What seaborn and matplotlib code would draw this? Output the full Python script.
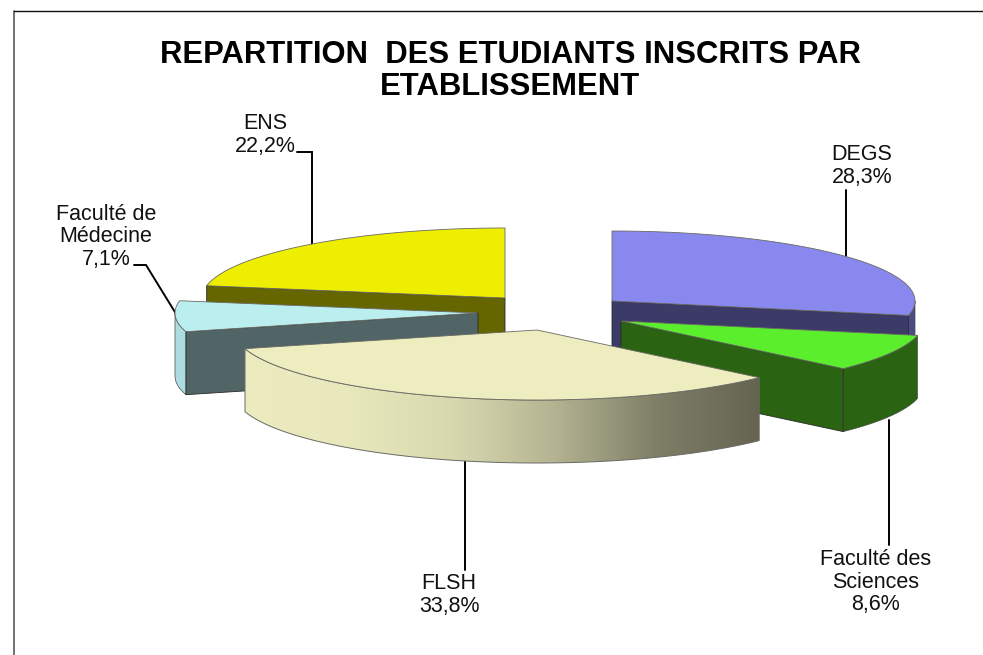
import numpy as np
import matplotlib
matplotlib.use('Agg')
import matplotlib.pyplot as plt
from matplotlib.patches import Polygon
import seaborn as sns

sns.set_style('white')
plt.rcParams['font.family'] = ['Liberation Sans', 'DejaVu Sans']

labels = ['DEGS', 'Faculté des\nSciences', 'FLSH', 'Faculté de\nMédecine', 'ENS']
shares = [28.3, 8.6, 33.8, 7.1, 22.2]

top_colors = ['#8888EE', '#5AEE2D', '#EDEDC0', '#BBEEEE', '#EEEE00']
wall_colors = ['#3C3A66', '#2A6311', '#636350', '#516567', '#666600']
rim_colors = ['#4A4A85', '#2A6311', '#636350', '#ADDDE0', '#666600']
flsh_side = ['#ECECC0', '#E8E8BC', '#D9D9B0', '#B4B492', '#7F7F68', '#646450']

# slice tips after the explode, in picture pixels
apex_x = [612, 621, 537, 478, 505]
apex_y = [301, 321, 330, 313, 298]
RX, RY, DEPTH = 303, 70, 63
EDGE = '#6a6a64'


def rim_point(i, theta):
    # theta is clockwise from the top of the pie, in degrees
    t = np.radians(theta)
    return apex_x[i] + RX * np.sin(t), apex_y[i] - RY * np.cos(t)


def draw_slice(ax, i, start, end, z):
    th = np.linspace(start, end, 200)
    x, y = rim_point(i, th)

    # outer side, only the part that faces the viewer
    lo, hi = max(start, 90), min(end, 270)
    if lo < hi:
        xs, ys = rim_point(i, np.linspace(lo, hi, 240))
        side_x = np.r_[xs, xs[::-1]]
        side_y = np.r_[ys, ys[::-1] + DEPTH]
        if i == 2:
            # the big slice has a left to right shading
            grad = np.array(sns.blend_palette(flsh_side, 256))[None, :, :]
            im = ax.imshow(grad, extent=(xs.min(), xs.max(), ys.max() + DEPTH, ys.min()),
                           aspect='auto', zorder=z, interpolation='bilinear')
            clip = Polygon(np.c_[side_x, side_y], transform=ax.transData)
            im.set_clip_path(clip)
            ax.set_xlim(0, 983)
            ax.set_ylim(655, 0)
            ax.fill(side_x, side_y, fill=False, ec=EDGE, lw=0.7, zorder=z)
        else:
            ax.fill(side_x, side_y, fc=rim_colors[i], ec='#4a4a4a', lw=0.5, zorder=z)

    # flat cut wall under the radius that points to the viewer
    if end <= 180:
        wall = end
    elif start >= 180:
        wall = start
    else:
        wall = None
    if wall is not None:
        ox, oy = rim_point(i, wall)
        ax.fill([apex_x[i], ox, ox, apex_x[i]],
                [apex_y[i], oy, oy + DEPTH, apex_y[i] + DEPTH],
                fc=wall_colors[i], ec='#2a2a2a', lw=0.6, zorder=z)

    # top face
    ax.fill(np.r_[apex_x[i], x], np.r_[apex_y[i], y],
            fc=top_colors[i], ec=EDGE, lw=0.6, zorder=z)


fig = plt.figure(figsize=(9.83, 6.55), dpi=100)
ax = fig.add_axes([0, 0, 1, 1])
ax.set_xlim(0, 983)
ax.set_ylim(655, 0)
ax.axis('off')

# frame of the chart area, only left and top are there
ax.plot([13.5, 13.5], [655, 10.5], color='#666666', lw=1.3)
ax.plot([13.5, 983], [10.5, 10.5], color='#111111', lw=1.0)

cum = np.cumsum([0] + shares) / sum(shares) * 360

# leader lines go behind the slices
leaders = [
    ([846, 846], [262, 190]),
    ([889, 889], [420, 545]),
    ([465, 465], [460, 570]),
    ([178, 146, 134], [317, 265, 265]),
    ([311.5, 311.5, 297], [250, 152, 152]),
]
for lx, ly in leaders:
    ax.plot(lx, ly, color='black', lw=1.4, solid_joinstyle='miter', zorder=3)

for z, i in enumerate([4, 0, 3, 1, 2]):
    draw_slice(ax, i, cum[i], cum[i + 1], 10 + z)

ax.text(510, 71, 'REPARTITION  DES ETUDIANTS INSCRITS PAR\nETABLISSEMENT', ha='center', va='center',
        fontsize=22.3, fontweight='bold', color='black', linespacing=1.06)

label_pos = [(862, 166), (876, 582), (449, 595), (106, 237), (265, 135)]
for (tx, ty), name, val in zip(label_pos, labels, shares):
    txt = f'{name}\n{val:.1f}%'.replace('.', ',')
    ax.text(tx, ty, txt, ha='center', va='center', fontsize=15.5, color='#111111', linespacing=1.12)

fig.savefig('out.png', dpi=100)
